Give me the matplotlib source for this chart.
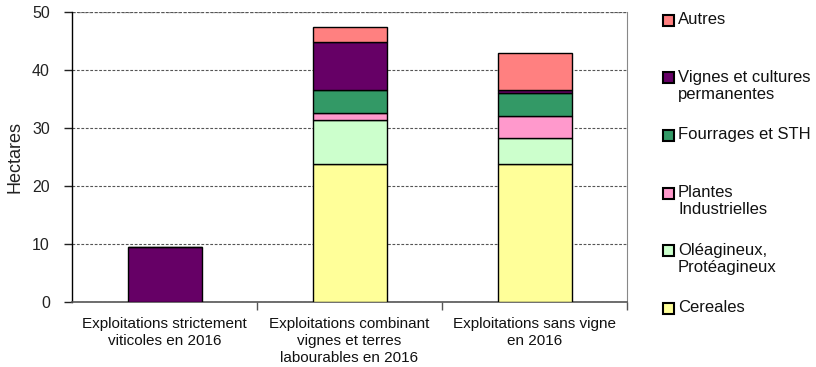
import matplotlib.pyplot as plt
import numpy as np
from matplotlib.patches import Rectangle

plt.rcParams['font.family'] = ['Liberation Sans', 'DejaVu Sans']

## categories and stacked values (hectares), bottom to top
categories = ["Exploitations strictement\nviticoles en 2016",
              "Exploitations combinant\nvignes et terres\nlabourables en 2016",
              "Exploitations sans vigne\nen 2016"]
series_names = ["Cereales", "Oléagineux,\nProtéagineux", "Plantes\nIndustrielles",
                "Fourrages et STH", "Vignes et cultures\npermanentes", "Autres"]
cereales = [0, 23.8, 23.8]
oleagineux = [0, 7.5, 4.4]
plantes = [0, 1.3, 3.9]
fourrages = [0, 3.9, 3.9]
vignes = [9.5, 8.3, 0.5]
autres = [0, 2.7, 6.4]
colors = ["#FFFF99", "#CCFFCC", "#FF99CC", "#339966", "#660066", "#FF8080"]

values = [cereales, oleagineux, plantes, fourrages, vignes, autres]

fig = plt.figure(figsize=(8.16, 3.67), dpi=100)
ax = fig.add_axes([72/816, 1 - 302/367, 555/816, 290/367])

X = np.arange(len(categories))
bottom = np.zeros(len(categories))
for vals, c in zip(values, colors):
    vals = np.array(vals, dtype=float)
    ax.bar(X, vals, width=0.4, bottom=bottom, color=c, edgecolor="black",
           linewidth=1, zorder=3)
    bottom += vals

ax.set_xlim(-0.5, len(categories) - 0.5)
ax.set_ylim(0, 50)
ax.set_yticks([0, 10, 20, 30, 40, 50])
ax.tick_params(axis="y", labelsize=11.5, length=6, width=1, colors="#222222", pad=10)
ax.yaxis.grid(True, linestyle=(0, (2.5, 1.5)), color="#555555", linewidth=0.8, zorder=0)

# category labels sit between boundary ticks
ax.set_xticks(X + 0.5, minor=False)
ax.set_xticklabels([])
ax.set_xticks(X, minor=True)
ax.set_xticklabels(categories, minor=True, fontsize=11, linespacing=1.25)
ax.tick_params(axis="x", which="major", length=6, width=1, colors="#555555")
ax.tick_params(axis="x", which="minor", length=0, pad=11, labelcolor="#111111")

ax.spines["top"].set_visible(False)
ax.spines["right"].set_color("#888888")
ax.spines["right"].set_linewidth(0.8)
ax.spines["left"].set_linewidth(1)
ax.spines["bottom"].set_color("#555555")
ax.spines["bottom"].set_linewidth(1.2)
ax.axhline(50, color="#999999", linestyle=(0, (2.5, 1.5)), linewidth=1, zorder=1)

ax.set_ylabel("Hectares", fontsize=13, labelpad=6, color="#222222")

## legend drawn by hand, top entry first
W, H = 816, 367
for i, (name, c) in enumerate(zip(series_names[::-1], colors[::-1])):
    y = 20 + i * 57.7
    fig.patches.append(Rectangle((663/W, 1 - (y + 5.5)/H), 11/W, 11/H,
                                 transform=fig.transFigure, facecolor=c,
                                 edgecolor="black", linewidth=1.5))
    fig.text(678/W, 1 - (y - 8)/H, name, fontsize=12, va="top", ha="left",
             linespacing=1.15, color="#111111")

fig.savefig("out.png", dpi=100)
